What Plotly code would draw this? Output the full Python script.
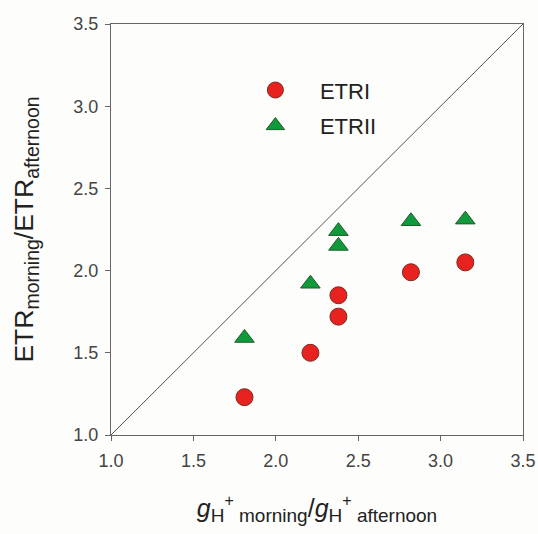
import plotly.graph_objects as go

# g_H+ ratio (morning/afternoon)
x_vals = [1.81, 2.21, 2.38, 2.38, 2.82, 3.15]
etr1 = [1.23, 1.50, 1.72, 1.85, 1.99, 2.05]
etr2 = [1.59, 1.92, 2.15, 2.24, 2.30, 2.31]
diag = [1.0, 3.5]
tick_vals = [1.0, 1.5, 2.0, 2.5, 3.0, 3.5]
tick_text = ["1.0", "1.5", "2.0", "2.5", "3.0", "3.5"]

fig = go.Figure()
fig.add_trace(go.Scatter(x=diag, y=diag, mode="lines", showlegend=False,
                         line=dict(color="#555555", width=1), hoverinfo="skip"))
fig.add_trace(go.Scatter(x=x_vals, y=etr1, mode="markers", name="ETRI", legendgroup="a",
                         marker=dict(symbol="circle", size=17, color="#e8231f",
                                     line=dict(color="#7a2a20", width=1))))
fig.add_trace(go.Scatter(x=x_vals, y=etr2, mode="markers", name="ETRII", legendgroup="b",
                         marker=dict(symbol="triangle-up", size=17, color="#109a3c",
                                     line=dict(color="#1f5a2a", width=1))))

axis_common = dict(range=[1.0, 3.5], tickvals=tick_vals, ticktext=tick_text,
                   showgrid=False, zeroline=False, showline=True, mirror=True,
                   linecolor="#666666", linewidth=1.2, ticks="outside", ticklen=5,
                   tickcolor="#666666", tickfont=dict(size=18, color="#444444"),
                   automargin=False)

sub = '<sub><span style="font-size:19px">{}</span></sub>'
sup = '<sup><span style="font-size:16px">{}</span></sup>'
x_title = ("<i>g</i>" + sub.format("H") + sup.format("+") + sub.format(" morning")
           + "/<i>g</i>" + sub.format("H") + sup.format("+") + sub.format(" afternoon"))
ysub = '<sub><span style="font-size:19.5px">{}</span></sub>'
y_title = "ETR" + ysub.format("morning") + "/ETR" + ysub.format("afternoon")

fig.update_layout(
    width=538, height=534,
    margin=dict(l=111, r=15, t=24, b=99),
    paper_bgcolor="#fdfdfb", plot_bgcolor="#fdfdfb",
    font=dict(family="Liberation Sans, Arial, sans-serif", color="#222222"),
    xaxis=dict(**axis_common, ticklabelstandoff=4,
               title=dict(text=x_title, font=dict(size=25, color="#222222"), standoff=29)),
    yaxis=dict(**axis_common, ticklabelstandoff=3,
               title=dict(text=y_title, font=dict(size=26.5, color="#222222"), standoff=31)),
    legend=dict(x=0.291, y=0.89, xanchor="left", yanchor="top", itemwidth=79,
                bgcolor="rgba(0,0,0,0)", font=dict(size=22, color="#222222"),
                traceorder="grouped", tracegroupgap=4),
    showlegend=True,
)

fig.write_html("out.html", config={"displayModeBar": False},
               post_script="document.body.style.margin='0';document.body.style.overflow='hidden';")
